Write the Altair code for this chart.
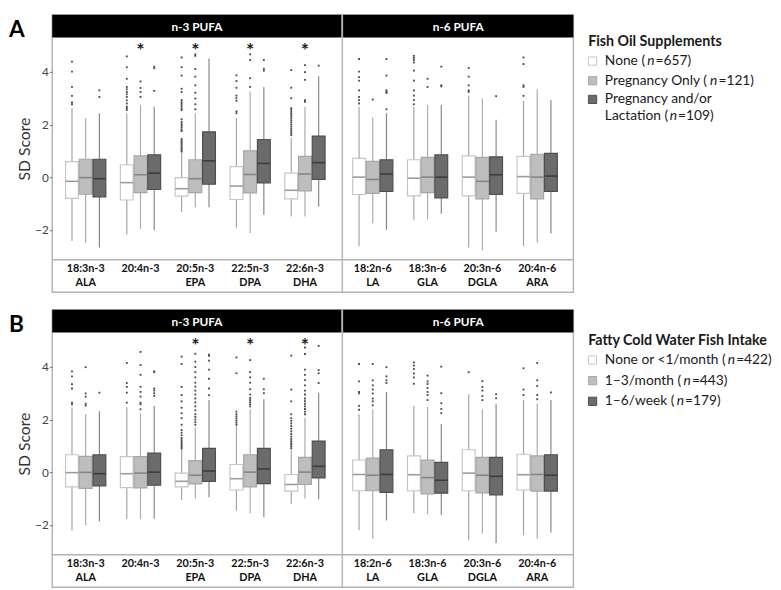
import altair as alt
import pandas as pd

FONT = "Lato"

# ---------------- categories ----------------
acids = ["18:3n-3", "20:4n-3", "20:5n-3", "22:5n-3", "22:6n-3",
         "18:2n-6", "18:3n-6", "20:3n-6", "20:4n-6"]
abbrevs = ["ALA", "", "EPA", "DPA", "DHA", "LA", "GLA", "DGLA", "ARA"]
families = ["n-3 PUFA"] * 5 + ["n-6 PUFA"] * 4
family_names = ["n-3 PUFA", "n-6 PUFA"]

groups_A = ["None", "Pregnancy Only", "Pregnancy and/or Lactation"]
groups_B = ["None or <1/month", "1–3/month", "1–6/week"]
legend_title_A = "Fish Oil Supplements"
legend_title_B = "Fatty Cold Water Fish Intake"
legend_lines_A = [["None ("], ["Pregnancy Only ("], ["Pregnancy and/or", "Lactation ("]]
legend_lines_B = [["None or <1/month ("], ["1–3/month ("], ["1–6/week ("]]
n_A = [657, 121, 109]
n_B = [422, 443, 179]

# ---------------- panel A: fish oil supplements (rows = groups, cols = acids) ----------------
A_q3 = [[0.59, 0.47, -0.02, 0.40, 0.15, 0.71, 0.66, 0.81, 0.79],
        [0.68, 0.81, 0.66, 1.00, 0.79, 0.60, 0.75, 0.75, 0.87],
        [0.68, 0.85, 1.72, 1.43, 1.56, 0.66, 0.85, 0.77, 0.90]]
A_med = [[-0.16, -0.21, -0.44, -0.34, -0.50, 0.00, -0.04, 0.00, 0.02],
         [-0.02, 0.09, -0.06, 0.10, 0.12, -0.09, 0.00, -0.16, 0.00],
         [-0.06, 0.15, 0.62, 0.52, 0.55, 0.12, 0.00, 0.09, 0.04]]
A_q1 = [[-0.81, -0.87, -0.72, -0.85, -0.83, -0.66, -0.71, -0.71, -0.62],
        [-0.65, -0.59, -0.59, -0.60, -0.52, -0.62, -0.59, -0.83, -0.83],
        [-0.75, -0.47, -0.27, -0.22, -0.09, -0.54, -0.79, -0.66, -0.54]]
A_lo = [[-2.43, -2.18, -1.33, -1.93, -1.50, -2.62, -1.62, -2.68, -2.62],
        [-2.50, -1.97, -1.15, -2.12, -1.50, -1.75, -1.60, -2.78, -2.49],
        [-2.68, -2.02, -1.15, -1.43, -1.12, -2.00, -1.39, -2.08, -2.14]]
A_hi = [[2.62, 2.43, 0.93, 2.24, 1.50, 2.68, 2.68, 3.09, 2.90],
        [2.24, 2.74, 2.43, 3.26, 2.68, 2.27, 2.74, 2.99, 3.34],
        [2.43, 2.68, 4.51, 3.43, 3.84, 2.43, 2.74, 2.18, 2.93]]
A_out = [
    [[2.77, 2.84, 3.09, 3.43, 4.01, 4.39],
     [2.55, 2.62, 2.68, 2.80, 2.92, 3.05, 3.15, 3.24, 3.34, 3.43, 3.74, 4.18, 4.59],
     [0.97, 1.02, 1.08, 1.13, 1.20, 1.26, 1.32, 1.38, 1.45, 1.75, 1.80, 1.88, 1.95, 2.02, 2.10,
      2.20, 2.55, 2.62, 2.70, 2.78, 2.85, 2.93, 3.24, 3.36, 3.86, 4.18, 4.55],
     [2.43, 2.50, 2.90, 3.00, 3.10, 3.40, 3.65, 3.87],
     [1.60, 1.68, 1.76, 1.84, 1.92, 2.00, 2.08, 2.16, 2.24, 2.32, 2.40, 2.48, 2.56, 2.62, 3.00, 3.40, 4.07],
     [2.80, 2.93, 3.05, 3.30, 3.67, 3.80, 4.01, 4.49],
     [2.77, 2.93, 3.10, 3.30, 3.67, 4.05, 4.36, 4.45, 4.53, 4.61],
     [3.24, 3.30, 3.49, 3.82, 4.15],
     [3.09, 3.43, 3.49, 4.30, 4.55]],
    [[],
     [3.05, 3.24, 3.39, 3.64],
     [2.58, 2.77, 2.99, 3.21, 3.49, 3.82, 4.11, 4.61, 4.67],
     [3.43, 3.76, 4.45, 4.67],
     [2.86, 2.93, 3.70, 3.99, 4.26],
     [2.95],
     [3.43, 3.74],
     [],
     []],
    [[3.05, 3.30],
     [3.28, 4.14, 4.20],
     [],
     [4.05, 4.12, 4.45],
     [4.24],
     [2.58, 3.20, 3.25, 3.30, 3.86, 4.49],
     [3.45, 3.49, 4.20],
     [3.08],
     []],
]
A_stars = ["20:4n-3", "20:5n-3", "22:5n-3", "22:6n-3"]

# ---------------- panel B: fatty cold water fish intake ----------------
B_q3 = [[0.66, 0.59, -0.04, 0.29, -0.09, 0.46, 0.62, 0.85, 0.68],
        [0.60, 0.59, 0.44, 0.66, 0.56, 0.53, 0.46, 0.56, 0.62],
        [0.66, 0.72, 0.90, 0.90, 1.18, 0.85, 0.37, 0.56, 0.66]]
B_med = [[-0.02, -0.06, -0.35, -0.25, -0.47, -0.09, -0.10, -0.04, -0.10],
         [-0.01, -0.04, -0.12, 0.00, 0.00, -0.12, -0.21, -0.12, -0.09],
         [-0.06, 0.00, 0.04, 0.12, 0.22, -0.09, -0.31, -0.16, -0.12]]
B_q1 = [[-0.56, -0.59, -0.56, -0.68, -0.72, -0.71, -0.71, -0.71, -0.68],
        [-0.62, -0.60, -0.45, -0.56, -0.47, -0.71, -0.83, -0.79, -0.72],
        [-0.52, -0.50, -0.35, -0.44, -0.22, -0.77, -0.80, -0.87, -0.72]]
B_lo = [[-2.22, -1.78, -1.06, -1.47, -1.21, -2.21, -1.56, -2.59, -2.40],
        [-2.02, -1.77, -1.00, -1.56, -1.00, -2.53, -1.60, -2.33, -2.53],
        [-1.87, -1.77, -0.96, -1.72, -1.03, -1.84, -1.63, -2.70, -2.30]]
B_hi = [[2.47, 2.47, 0.87, 1.75, 0.83, 2.21, 2.52, 2.96, 2.74],
        [2.21, 2.24, 1.71, 2.39, 2.06, 2.39, 2.47, 2.39, 2.62],
        [2.31, 2.52, 2.74, 2.77, 3.02, 3.05, 1.83, 2.59, 2.74]]
B_out = [
    [[2.58, 2.64, 3.18, 3.34, 3.64, 3.83],
     [2.64, 3.02, 3.24, 3.39, 4.15],
     [0.90, 0.96, 1.02, 1.08, 1.15, 1.22, 1.30, 1.40, 1.50, 1.60, 1.80, 2.05, 2.24, 2.45, 2.69,
      2.93, 3.24, 4.11, 4.39],
     [1.80, 1.88, 1.96, 2.04, 2.12, 2.20, 2.30, 3.76, 4.36],
     [0.90, 0.97, 1.04, 1.10, 1.18, 1.26, 1.35, 1.45, 1.55, 1.65, 1.75, 1.85, 1.95, 2.05, 2.20,
      2.69, 3.14, 4.43],
     [2.37, 2.52, 3.00, 3.05, 3.45, 4.11],
     [3.36, 3.60, 3.75, 3.92, 4.05, 4.17],
     [3.80],
     [2.93, 3.14, 3.95]],
    [[2.53, 2.60, 2.87, 2.99, 3.99],
     [2.39, 2.58, 2.64, 2.87, 3.05, 3.24, 3.70, 4.07, 4.57],
     [1.80, 1.90, 2.00, 2.10, 2.20, 2.35, 2.50, 2.65, 2.80, 2.95, 3.10, 3.25, 3.40, 3.60, 3.80,
      4.00, 4.20, 4.50],
     [2.50, 2.58, 2.66, 2.74, 2.82, 2.95, 3.15, 3.40, 3.60, 3.80, 4.26],
     [2.20, 2.30, 2.40, 2.50, 2.60, 2.70, 2.80, 2.95, 3.10, 3.30, 3.50, 3.70, 3.90, 4.49, 4.74],
     [2.54, 2.69, 2.80, 2.99, 3.14, 3.30, 3.49, 4.11],
     [2.74, 2.93, 3.05, 3.20, 3.35, 3.45, 3.67],
     [2.74, 2.89, 3.10, 3.24, 3.46],
     [2.77, 2.93, 3.27, 3.49, 4.15]],
    [[3.02],
     [2.90, 3.00, 3.10, 3.18, 3.80, 3.83],
     [2.93, 3.18, 3.55, 3.90, 4.24, 4.42, 4.47],
     [3.00, 3.15, 3.55],
     [3.39, 3.76, 3.88, 4.80],
     [3.39, 3.49, 3.64, 3.99],
     [2.24, 2.40, 2.62, 3.00, 4.01],
     [2.81, 2.96],
     [3.03]],
]
B_stars = ["20:5n-3", "22:5n-3", "22:6n-3"]

# ---------------- styles / layout ----------------
fill_cols = ["#ffffff", "#bebebe", "#6b6b6b"]
box_stroke_cols = ["#c6c6c6", "#a6a6a6", "#4e4e4e"]
median_cols = ["#9c9c9c", "#858585", "#3c3c3c"]
whisker_cols = ["#a4a4a4", "#ababab", "#878787"]
legend_fill = ["#ffffff", "#c0c0c0", "#5f5f5f"]
legend_stroke = ["#333333", "#c0c0c0", "#5f5f5f"]
FRAME = "#b4b4b4"
W = 530               # both PUFA panels together
W3 = 295              # width of the n-3 part
H = 282
Y_TOP, Y_BOT = 23, 249
X_DOMAIN = [-0.61, 8.897]
FAMILY_GAP = 0.237    # extra room between the n-3 and n-6 families, category units
GROUP_SHIFT = 0.25    # distance between neighbouring boxes, category units
HALF_BOX = 0.117      # half box width, category units
NOFRAME = alt.ViewBackground(stroke="transparent")


def slot(ai):
    return ai + (FAMILY_GAP if families[ai] == "n-6 PUFA" else 0.0)


def build_tables(groups, q1, med, q3, lo, hi, outs, stars):
    box_rows, out_rows = [], []
    for gi, g in enumerate(groups):
        for ai, a in enumerate(acids):
            box_rows.append(dict(group=g, gi=gi, acid=a, pos=slot(ai),
                                 q1=q1[gi][ai], med=med[gi][ai], q3=q3[gi][ai],
                                 lo=lo[gi][ai], hi=hi[gi][ai]))
            for v in outs[gi][ai]:
                out_rows.append(dict(group=g, gi=gi, acid=a, pos=slot(ai), val=v))
    star_rows = [dict(acid=a, pos=slot(acids.index(a)), sig="*") for a in stars]
    return pd.DataFrame(box_rows), pd.DataFrame(out_rows), pd.DataFrame(star_rows)


tables = {
    "A": build_tables(groups_A, A_q1, A_med, A_q3, A_lo, A_hi, A_out, A_stars),
    "B": build_tables(groups_B, B_q1, B_med, B_q3, B_lo, B_hi, B_out, B_stars),
}
label_df = pd.DataFrame({"acid": acids, "abbr": abbrevs, "pos": [slot(i) for i in range(len(acids))]})


def make_panel(key, groups):
    bx, ox, st = tables[key]
    xsc = alt.Scale(domain=X_DOMAIN, nice=False, zero=False)
    ysc = alt.Scale(domain=[-3.14, 5.31], range=[Y_BOT, Y_TOP], nice=False, zero=False)
    yax = alt.Axis(values=[-2, 0, 2, 4], title="SD Score", grid=False, domain=False,
                   tickSize=3, tickColor="#777777", labelColor="#444444", labelFontSize=12,
                   labelPadding=1, titleFontSize=16, titleFontWeight="normal",
                   titleColor="#333333", titlePadding=2, labelFont=FONT, titleFont=FONT)

    def X(field):
        return alt.X(field, scale=xsc, axis=None)

    def Y(field):
        return alt.Y(field, scale=ysc, axis=yax)

    calc = dict(xc="datum.pos + (datum.gi - 1) * %f" % GROUP_SHIFT,
                xl="datum.pos + (datum.gi - 1) * %f - %f" % (GROUP_SHIFT, HALF_BOX),
                xr="datum.pos + (datum.gi - 1) * %f + %f" % (GROUP_SHIFT, HALF_BOX))
    base = alt.Chart(bx).transform_calculate(**calc)

    whisk = base.mark_rule(strokeWidth=1.2).encode(
        x=X("xc:Q"), y=Y("lo:Q"), y2="hi:Q",
        color=alt.Color("group:N", scale=alt.Scale(domain=groups, range=whisker_cols), legend=None))
    boxes = base.mark_bar(strokeWidth=1.2).encode(
        x=X("xl:Q"), x2="xr:Q", y=Y("q1:Q"), y2="q3:Q",
        fill=alt.Fill("group:N", scale=alt.Scale(domain=groups, range=fill_cols), legend=None),
        stroke=alt.Stroke("group:N", scale=alt.Scale(domain=groups, range=box_stroke_cols), legend=None))
    meds = base.mark_rule(strokeWidth=1.6).encode(
        x=X("xl:Q"), x2="xr:Q", y=Y("med:Q"),
        color=alt.Color("group:N", scale=alt.Scale(domain=groups, range=median_cols), legend=None))
    outl = alt.Chart(ox).transform_calculate(**calc).mark_square(
        size=3.5, color="#4a4a4a", opacity=1).encode(x=X("xc:Q"), y=Y("val:Q"))
    stars = alt.Chart(st).mark_text(fontSize=20, fontWeight="bold", color="#222222",
                                    baseline="alphabetic", font=FONT).encode(
        x=X("pos:Q"), y=alt.value(43), text="sig:N")

    layers = []
    spans = [(0, W3 - 0.75), (W3 + 0.75, W)]
    for fam, (x0, x1) in zip(family_names, spans):
        hd = alt.Data(values=[{"fam": fam}])
        layers.append(alt.Chart(hd).mark_rect(color="black").encode(
            x=alt.value(x0), x2=alt.value(x1), y=alt.value(0), y2=alt.value(Y_TOP)))
        layers.append(alt.Chart(hd).mark_text(color="white", fontWeight="bold", fontSize=12,
                                              font=FONT, baseline="middle").encode(
            x=alt.value((x0 + x1) / 2), y=alt.value(12), text="fam:N"))
    one = alt.Data(values=[{"t": key}])
    divider = alt.Chart(one).mark_rule(color=FRAME, strokeWidth=1.5).encode(
        x=alt.value(W3), y=alt.value(0), y2=alt.value(H))
    sep = alt.Chart(one).mark_rule(color=FRAME, strokeWidth=1.5).encode(
        x=alt.value(0), x2=alt.value(W), y=alt.value(Y_BOT))
    lab1 = alt.Chart(label_df).mark_text(fontWeight="bold", fontSize=11, color="#111111", font=FONT,
                                         baseline="middle").encode(
        x=X("pos:Q"), y=alt.value(258.5), text="acid:N")
    lab2 = alt.Chart(label_df).mark_text(fontWeight="bold", fontSize=11, color="#111111", font=FONT,
                                         baseline="middle").encode(
        x=X("pos:Q"), y=alt.value(272.5), text="abbr:N")
    letter = alt.Chart(one).mark_text(
        align="left", baseline="top", fontSize=23, fontWeight="bold", color="black", font=FONT
    ).encode(x=alt.value(-44), y=alt.value(5), text="t:N")

    layers += [divider, sep, whisk, boxes, meds, outl, stars, lab1, lab2, letter]
    return alt.layer(*layers).resolve_scale(color="independent").properties(
        width=W, height=H, view=alt.ViewBackground(stroke=FRAME, strokeWidth=1.5))


def seg(text, h, italic=False, bold=False, size=14, yc=None, dx=0):
    return alt.Chart(alt.Data(values=[{"t": text}])).mark_text(
        align="left", baseline="middle", fontSize=size, font=FONT, color="#1a1a1a", dx=dx,
        fontStyle="italic" if italic else "normal", fontWeight="bold" if bold else "normal"
    ).encode(x=alt.value(0), y=alt.value(h / 2 if yc is None else yc), text="t:N").properties(
        width=1, height=h, view=NOFRAME)


def square(groups, gi, h):
    return alt.Chart(alt.Data(values=[{"g": groups[gi]}])).mark_square(size=70, strokeWidth=1, opacity=1).encode(
        x=alt.value(4.5), y=alt.value(h / 2),
        fill=alt.Fill("g:N", scale=alt.Scale(domain=groups, range=legend_fill), legend=None),
        stroke=alt.Stroke("g:N", scale=alt.Scale(domain=groups, range=legend_stroke), legend=None),
    ).properties(width=15, height=h, view=NOFRAME)


def spacer(h):
    return alt.Chart(alt.Data(values=[{"t": ""}])).mark_text().encode(
        x=alt.value(0), y=alt.value(h / 2), text="t:N").properties(width=15, height=h, view=NOFRAME)


def legend_block(title, lines, ns, groups, title_h, heights):
    rows = [seg(title, title_h, bold=True, size=14.5, yc=title_h - 8.5)]
    k = 0
    for gi, (parts, n) in enumerate(zip(lines, ns)):
        for li, part in enumerate(parts):
            h = heights[k]
            k += 1
            first_el = square(groups, gi, h) if li == 0 else spacer(h)
            if li == len(parts) - 1:
                items = [first_el, seg(part, h), seg("n", h, italic=True, dx=-2),
                         seg("=%d)" % n, h, dx=-1.5)]
            else:
                items = [first_el, seg(part, h)]
            rows.append(alt.hconcat(*items, spacing=0))
    return alt.vconcat(*rows, spacing=0)


def make_row(key, groups, title, lines, ns, title_h, heights):
    return alt.hconcat(make_panel(key, groups),
                       legend_block(title, lines, ns, groups, title_h, heights), spacing=10)


rowA = make_row("A", groups_A, legend_title_A, legend_lines_A, n_A, 36, [18, 18, 16, 14])
rowB = make_row("B", groups_B, legend_title_B, legend_lines_B, n_B, 40, [18, 20, 18])

chart = alt.vconcat(rowA, rowB, spacing=14).properties(padding=0).configure(
    font=FONT).configure_view(stroke="transparent")

chart.save("out.html", embed_options={"renderer": "svg", "actions": False})
